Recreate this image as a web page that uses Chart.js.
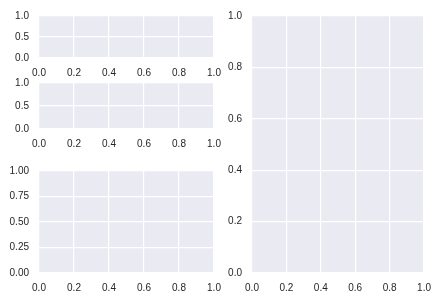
<!DOCTYPE html>
<html>
<head>
<meta charset="utf-8">
<script src="https://cdn.jsdelivr.net/npm/chart.js@4"></script>
<style>
    body { margin: 0; background: #ffffff; }
    #wrap { position: relative; width: 440px; height: 300px; }
    #wrap canvas { position: absolute; left: 0; top: 0; }
</style>
</head>
<body>
<div id="wrap">
    <canvas id="ax1" width="440" height="300"></canvas>
    <canvas id="ax2" width="440" height="300"></canvas>
    <canvas id="ax3" width="440" height="300"></canvas>
    <canvas id="ax4" width="440" height="300"></canvas>
</div>
<script>
// tick labels (all axes run 0..1, no data plotted)
const xTickLabels = ["0.0", "0.2", "0.4", "0.6", "0.8", "1.0"];
const yTicksSmall = ["0.0", "0.5", "1.0"];
const yTicksBottom = ["0.00", "0.25", "0.50", "0.75", "1.00"];
const yTicksRight = ["0.0", "0.2", "0.4", "0.6", "0.8", "1.0"];

const W = 440;
const H = 300;
const Y_AXIS_W = 39;
const X_AXIS_H = 22;

// seaborn-like grey panel behind the plot area
const bgPlugin = {
    id: "bg",
    beforeDraw(chart) {
        const a = chart.chartArea;
        const ctx = chart.ctx;
        ctx.save();
        ctx.fillStyle = "#eaeaf2";
        ctx.fillRect(a.left, a.top, a.right - a.left, a.bottom - a.top);
        ctx.restore();
    }
};

function tickAxis(labels, axisId) {
    return {
        type: "linear",
        min: 0,
        max: 1,
        afterBuildTicks(scale) {
            scale.ticks = labels.map(l => ({ value: parseFloat(l), label: l }));
        },
        afterFit(scale) {
            if (axisId === "x") {
                scale.height = X_AXIS_H;
            } else {
                scale.width = Y_AXIS_W;
            }
        },
        grid: {
            color: "#ffffff",
            lineWidth: 1.2,
            drawTicks: false
        },
        border: {
            display: false
        },
        ticks: {
            autoSkip: false,
            maxRotation: 0,
            padding: axisId === "x" ? 9 : 10,
            color: "#262626",
            font: {
                family: "'Liberation Sans', Arial, sans-serif",
                size: 10
            },
            callback: function (value) {
                const i = labels.findIndex(l => parseFloat(l) === value);
                return i >= 0 ? labels[i] : "";
            }
        }
    };
}

function makeAxes(id, box, yLabels) {

    new Chart(document.getElementById(id), {

        type: "scatter",

        data: {
            datasets: [{
                data: []
            }]
        },

        options: {
            responsive: false,
            animation: false,
            layout: {
                padding: {
                    left: box.left - Y_AXIS_W,
                    right: W - box.right,
                    top: box.top,
                    bottom: H - box.bottom - X_AXIS_H
                }
            },
            plugins: {
                legend: { display: false },
                tooltip: { enabled: false }
            },
            scales: {
                x: tickAxis(xTickLabels, "x"),
                y: tickAxis(yLabels, "y")
            }
        },

        plugins: [bgPlugin]

    });

}

makeAxes("ax1", { left: 39, right: 214, top: 12, bottom: 58 }, yTicksSmall);
makeAxes("ax2", { left: 39, right: 214, top: 83, bottom: 129 }, yTicksSmall);
makeAxes("ax3", { left: 39, right: 214, top: 171, bottom: 273 }, yTicksBottom);
makeAxes("ax4", { left: 252, right: 426, top: 12, bottom: 273 }, yTicksRight);
</script>
</body>
</html>
